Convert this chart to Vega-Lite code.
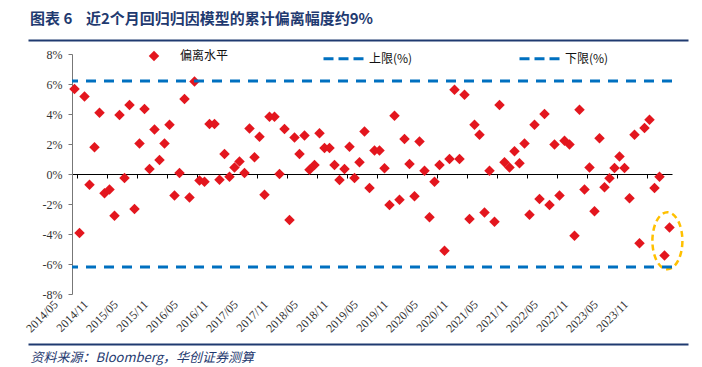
{
  "$schema": "https://vega.github.io/schema/vega-lite/v6.json",
  "width": 600,
  "height": 240,
  "autosize": {"type": "none"},
  "padding": {"left": 72, "top": 54, "right": 30, "bottom": 73},
  "background": "white",
  "config": {"view": {"stroke": null}, "axis": {"grid": false}, "font": "Liberation Serif"},
  "title": {
    "text": "图表 6\u00a0\u00a0\u00a0\u00a0近2个月回归归因模型的累计偏离幅度约9%",
    "anchor": "start",
    "frame": "group",
    "dx": -42,
    "offset": 10,
    "font": "Noto Sans CJK SC",
    "fontSize": 15,
    "fontWeight": "bold",
    "color": "#1F3A70"
  },
  "datasets": {
    "pts": [
      {"m": "2014/05", "v": 5.67}, {"m": "2014/06", "v": -3.93}, {"m": "2014/07", "v": 5.16}, {"m": "2014/08", "v": -0.71},
      {"m": "2014/09", "v": 1.78}, {"m": "2014/10", "v": 4.09}, {"m": "2014/11", "v": -1.29}, {"m": "2014/12", "v": -1.04},
      {"m": "2015/01", "v": -2.78}, {"m": "2015/02", "v": 3.93}, {"m": "2015/03", "v": -0.27}, {"m": "2015/04", "v": 4.6},
      {"m": "2015/05", "v": -2.33}, {"m": "2015/06", "v": 2.04}, {"m": "2015/07", "v": 4.33}, {"m": "2015/08", "v": 0.33},
      {"m": "2015/09", "v": 2.96}, {"m": "2015/10", "v": 0.93}, {"m": "2015/11", "v": 2.04}, {"m": "2015/12", "v": 3.29},
      {"m": "2016/01", "v": -1.44}, {"m": "2016/02", "v": 0.07}, {"m": "2016/03", "v": 5.0}, {"m": "2016/04", "v": -1.56},
      {"m": "2016/05", "v": 6.16}, {"m": "2016/06", "v": -0.44}, {"m": "2016/07", "v": -0.51}, {"m": "2016/08", "v": 3.33},
      {"m": "2016/09", "v": 3.33}, {"m": "2016/10", "v": -0.38}, {"m": "2016/11", "v": 1.33}, {"m": "2016/12", "v": -0.18},
      {"m": "2017/01", "v": 0.44}, {"m": "2017/02", "v": 0.84}, {"m": "2017/03", "v": 0.07}, {"m": "2017/04", "v": 3.04},
      {"m": "2017/05", "v": 1.11}, {"m": "2017/06", "v": 2.49}, {"m": "2017/07", "v": -1.38}, {"m": "2017/08", "v": 3.82},
      {"m": "2017/09", "v": 3.82}, {"m": "2017/10", "v": 0.0}, {"m": "2017/11", "v": 3.0}, {"m": "2017/12", "v": -3.07},
      {"m": "2018/01", "v": 2.44}, {"m": "2018/02", "v": 1.33}, {"m": "2018/03", "v": 2.56}, {"m": "2018/04", "v": 0.29},
      {"m": "2018/05", "v": 0.6}, {"m": "2018/06", "v": 2.71}, {"m": "2018/07", "v": 1.73}, {"m": "2018/08", "v": 1.73},
      {"m": "2018/09", "v": 0.6}, {"m": "2018/10", "v": -0.4}, {"m": "2018/11", "v": 0.33}, {"m": "2018/12", "v": 1.82},
      {"m": "2019/01", "v": -0.27}, {"m": "2019/02", "v": 0.78}, {"m": "2019/03", "v": 2.84}, {"m": "2019/04", "v": -0.93},
      {"m": "2019/05", "v": 1.56}, {"m": "2019/06", "v": 1.56}, {"m": "2019/07", "v": 0.38}, {"m": "2019/08", "v": -2.07},
      {"m": "2019/09", "v": 3.89}, {"m": "2019/10", "v": -1.71}, {"m": "2019/11", "v": 2.33}, {"m": "2019/12", "v": 0.67},
      {"m": "2020/01", "v": -1.49}, {"m": "2020/02", "v": 2.16}, {"m": "2020/03", "v": 0.22}, {"m": "2020/04", "v": -2.89},
      {"m": "2020/05", "v": -0.51}, {"m": "2020/06", "v": 0.6}, {"m": "2020/07", "v": -5.11}, {"m": "2020/08", "v": 1.0},
      {"m": "2020/09", "v": 5.62}, {"m": "2020/10", "v": 1.0}, {"m": "2020/11", "v": 5.29}, {"m": "2020/12", "v": -3.0},
      {"m": "2021/01", "v": 3.29}, {"m": "2021/02", "v": 2.62}, {"m": "2021/03", "v": -2.56}, {"m": "2021/04", "v": 0.22},
      {"m": "2021/05", "v": -3.18}, {"m": "2021/06", "v": 4.6}, {"m": "2021/07", "v": 0.78}, {"m": "2021/08", "v": 0.44},
      {"m": "2021/09", "v": 1.51}, {"m": "2021/10", "v": 0.71}, {"m": "2021/11", "v": 2.04}, {"m": "2021/12", "v": -2.71},
      {"m": "2022/01", "v": 3.29}, {"m": "2022/02", "v": -1.67}, {"m": "2022/03", "v": 4.0}, {"m": "2022/04", "v": -2.07},
      {"m": "2022/05", "v": 1.96}, {"m": "2022/06", "v": -1.44}, {"m": "2022/07", "v": 2.22}, {"m": "2022/08", "v": 1.96},
      {"m": "2022/09", "v": -4.11}, {"m": "2022/10", "v": 4.29}, {"m": "2022/11", "v": -1.04}, {"m": "2022/12", "v": 0.44},
      {"m": "2023/01", "v": -2.49}, {"m": "2023/02", "v": 2.38}, {"m": "2023/03", "v": -0.89}, {"m": "2023/04", "v": -0.29},
      {"m": "2023/05", "v": 0.4}, {"m": "2023/06", "v": 1.16}, {"m": "2023/07", "v": 0.4}, {"m": "2023/08", "v": -1.62},
      {"m": "2023/09", "v": 2.62}, {"m": "2023/10", "v": -4.62}, {"m": "2023/11", "v": 3.07}, {"m": "2023/12", "v": 3.62},
      {"m": "2024/01", "v": -0.93}, {"m": "2024/02", "v": -0.18}, {"m": "2024/03", "v": -5.44}, {"m": "2024/04", "v": -3.56}
    ]
  },
  "layer": [
    {
      "layer": [
        {
          "data": {"name": "pts"},
          "mark": {"type": "point", "shape": "diamond", "filled": true, "color": "#E3161E", "size": 110, "opacity": 1},
          "encoding": {
            "x": {
              "field": "m", "type": "ordinal",
              "axis": {
                "orient": "bottom", "domain": false, "ticks": false, "tickSize": 0,
                "labelAngle": -45, "labelAlign": "right", "labelBaseline": "middle",
                "labelPadding": 8, "labelOffset": -19, "labelOverlap": false,
                "labelFont": "Liberation Serif", "labelFontSize": 12, "labelColor": "#333",
                "title": null,
                "values": ["2014/05","2014/11","2015/05","2015/11","2016/05","2016/11","2017/05","2017/11","2018/05","2018/11","2019/05","2019/11","2020/05","2020/11","2021/05","2021/11","2022/05","2022/11","2023/05","2023/11"]
              }
            },
            "y": {
              "field": "v", "type": "quantitative",
              "scale": {"domain": [-8, 8], "nice": false, "zero": false},
              "axis": {
                "values": [-8, -6, -4, -2, 0, 2, 4, 6, 8], "tickCount": 9,
                "labelExpr": "datum.value + '%'", "labelOverlap": false,
                "domainColor": "#777", "tickColor": "#777", "tickSize": 4,
                "labelFont": "Liberation Serif", "labelFontSize": 12, "labelColor": "#333",
                "labelPadding": 6, "title": null, "grid": false
              }
            },
            "shape": {
              "datum": "偏离水平",
              "scale": {"range": ["diamond"]},
              "legend": {
                "orient": "none", "legendX": 76, "legendY": -4, "title": null,
                "symbolSize": 110, "symbolFillColor": "#E3161E", "symbolStrokeColor": "#E3161E", "symbolStrokeWidth": 0,
                "labelOffset": 20, "labelFont": "Noto Sans CJK SC", "labelFontSize": 12, "labelColor": "#111"
              }
            }
          }
        },
        {
          "data": {"values": [{"m": "2024/04", "v": -4.45}]},
          "mark": {
            "type": "point",
            "shape": "M -0.57,0 A 0.5,0.95 0 1 1 0.43,0 A 0.5,0.95 0 1 1 -0.57,0 Z",
            "filled": false, "color": "#FFC000", "stroke": "#FFC000", "strokeWidth": 2.5,
            "strokeDash": [6, 4], "size": 3600, "opacity": 1
          },
          "encoding": {
            "x": {"field": "m", "type": "ordinal"},
            "y": {
              "field": "v", "type": "quantitative",
              "axis": {
                "values": [-8, -6, -4, -2, 0, 2, 4, 6, 8], "tickCount": 9,
                "labelExpr": "datum.value + '%'", "labelOverlap": false,
                "domainColor": "#777", "tickColor": "#777", "tickSize": 4,
                "labelFont": "Liberation Serif", "labelFontSize": 12, "labelColor": "#333",
                "labelPadding": 6, "title": null, "grid": false
              }
            }
          }
        }
      ]
    },
    {
      "data": {"name": "pts"},
      "mark": {"type": "point", "opacity": 0, "size": 0},
      "encoding": {
        "x": {
          "field": "m", "type": "ordinal",
          "scale": {"type": "band", "paddingInner": 0, "paddingOuter": 0},
          "axis": {
            "orient": "bottom", "offset": -120, "labels": false, "ticks": true, "tickSize": 4,
            "tickBand": "extent", "domain": true, "domainColor": "#000", "tickColor": "#000",
            "title": null, "grid": false,
            "values": ["2014/05","2014/11","2015/05","2015/11","2016/05","2016/11","2017/05","2017/11","2018/05","2018/11","2019/05","2019/11","2020/05","2020/11","2021/05","2021/11","2022/05","2022/11","2023/05","2023/11"]
          }
        }
      }
    },
    {
      "data": {"values": [{"s": "上限(%)", "v": 6.2}, {"s": "下限(%)", "v": -6.2}]},
      "mark": {"type": "rule", "strokeDash": [10, 8], "strokeWidth": 3},
      "encoding": {
        "y": {
          "field": "v", "type": "quantitative",
          "axis": {
            "values": [-8, -6, -4, -2, 0, 2, 4, 6, 8], "tickCount": 9,
            "labelExpr": "datum.value + '%'", "labelOverlap": false,
            "domainColor": "#777", "tickColor": "#777", "tickSize": 4,
            "labelFont": "Liberation Serif", "labelFontSize": 12, "labelColor": "#333",
            "labelPadding": 6, "title": null, "grid": false
          }
        },
        "color": {
          "field": "s", "type": "nominal",
          "scale": {"domain": ["上限(%)", "下限(%)"], "range": ["#0070C0", "#0070C0"]},
          "legend": {
            "orient": "none", "legendX": 250, "legendY": -17, "direction": "horizontal", "title": null,
            "symbolType": "stroke", "symbolSize": 1600, "symbolStrokeWidth": 3, "symbolDash": [10, 5],
            "symbolStrokeColor": "#0070C0", "labelOffset": 4, "columnPadding": 100,
            "labelFont": "Noto Sans CJK SC", "labelFontSize": 12, "labelColor": "#111"
          }
        }
      }
    },
    {
      "data": {"values": [{"u": 0}, {"u": 1}]},
      "mark": {"type": "point", "opacity": 0, "size": 0},
      "encoding": {
        "x": {
          "field": "u", "type": "quantitative",
          "scale": {"domain": [0, 1], "range": [-44, 616]},
          "axis": {
            "orient": "top", "offset": 14, "labels": false, "ticks": false, "domain": true,
            "domainColor": "#1F3A70", "domainWidth": 2, "title": null, "grid": false
          }
        }
      }
    },
    {
      "data": {"values": [{"u": 0}, {"u": 1}]},
      "mark": {"type": "point", "opacity": 0, "size": 0},
      "encoding": {
        "x": {
          "field": "u", "type": "quantitative",
          "scale": {"domain": [0, 1], "range": [-44, 616]},
          "axis": {
            "orient": "bottom", "offset": 50, "labels": false, "ticks": false, "domain": true,
            "domainColor": "#1F3A70", "domainWidth": 2, "grid": false,
            "title": "资料来源：Bloomberg，华创证券测算",
            "titleX": -42, "titleY": 17, "titleAlign": "left", "titleBaseline": "alphabetic",
            "titleFont": "Noto Sans CJK SC", "titleFontStyle": "italic", "titleFontWeight": "normal",
            "titleFontSize": 13, "titleColor": "#1F3A70"
          }
        }
      }
    }
  ],
  "resolve": {"scale": {"x": "independent"}, "axis": {"x": "independent"}}
}
